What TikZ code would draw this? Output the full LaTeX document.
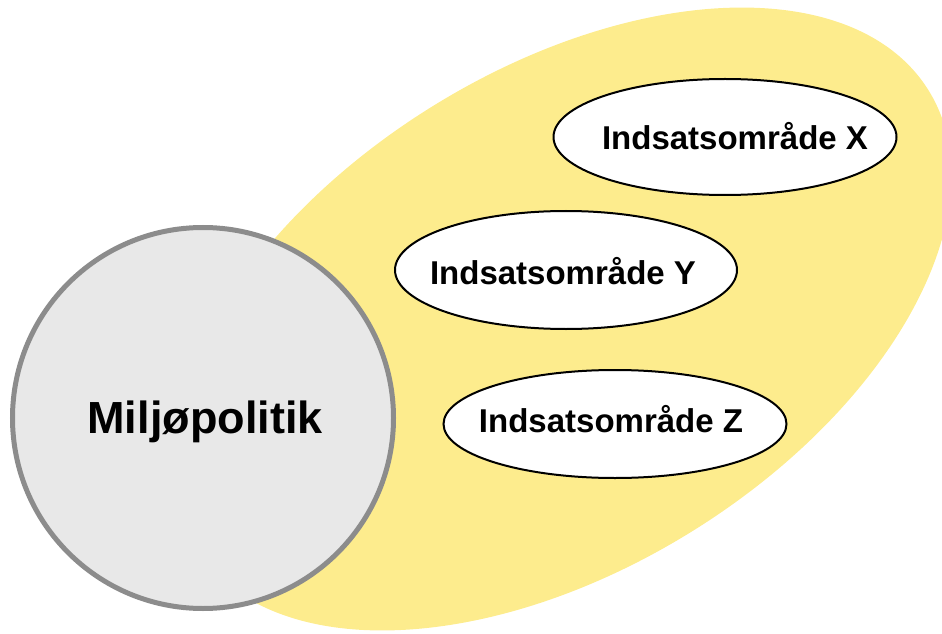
\documentclass[tikz,border=0pt]{standalone}
\usepackage{fontspec}
\setmainfont{Liberation Sans}
\usetikzlibrary{shapes.geometric}
\definecolor{bigyellow}{RGB}{253,236,141}
\definecolor{circfill}{RGB}{232,232,232}
\definecolor{circline}{RGB}{140,140,140}
\tikzset{
  area/.style={ellipse, draw=black, line width=2pt, fill=white, inner sep=0pt},
  areatext/.style={anchor=base, inner sep=0pt, font=\fontsize{33}{36}\selectfont\bfseries},
}
\begin{document}
\begin{tikzpicture}[x=1pt,y=1pt]
\useasboundingbox (0,0) rectangle (942,633);
\clip (0,0) rectangle (942,633);
\fill[bigyellow, rotate around={32:(562,314)}] (562,314) ellipse [x radius=432, y radius=249];
\node[circle, draw=circline, line width=5pt, fill=circfill, minimum size=381pt, inner sep=0pt] (pol) at (203,215) {};
\node[anchor=base, inner sep=0pt, font=\fontsize{45}{50}\selectfont\bfseries] (poltxt) at (205,200) {Miljøpolitik};
\node[area, minimum width=343pt, minimum height=116pt] (ax) at (725,496) {};
\node[areatext] (tx) at (735,483) {Indsatsområde X};
\node[area, minimum width=342pt, minimum height=118pt] (ay) at (566,363) {};
\node[areatext] (ty) at (563,349) {Indsatsområde Y};
\node[area, minimum width=343pt, minimum height=108pt] (az) at (615,209) {};
\node[areatext] (tz) at (611,201) {Indsatsområde Z};
\end{tikzpicture}
\end{document}
